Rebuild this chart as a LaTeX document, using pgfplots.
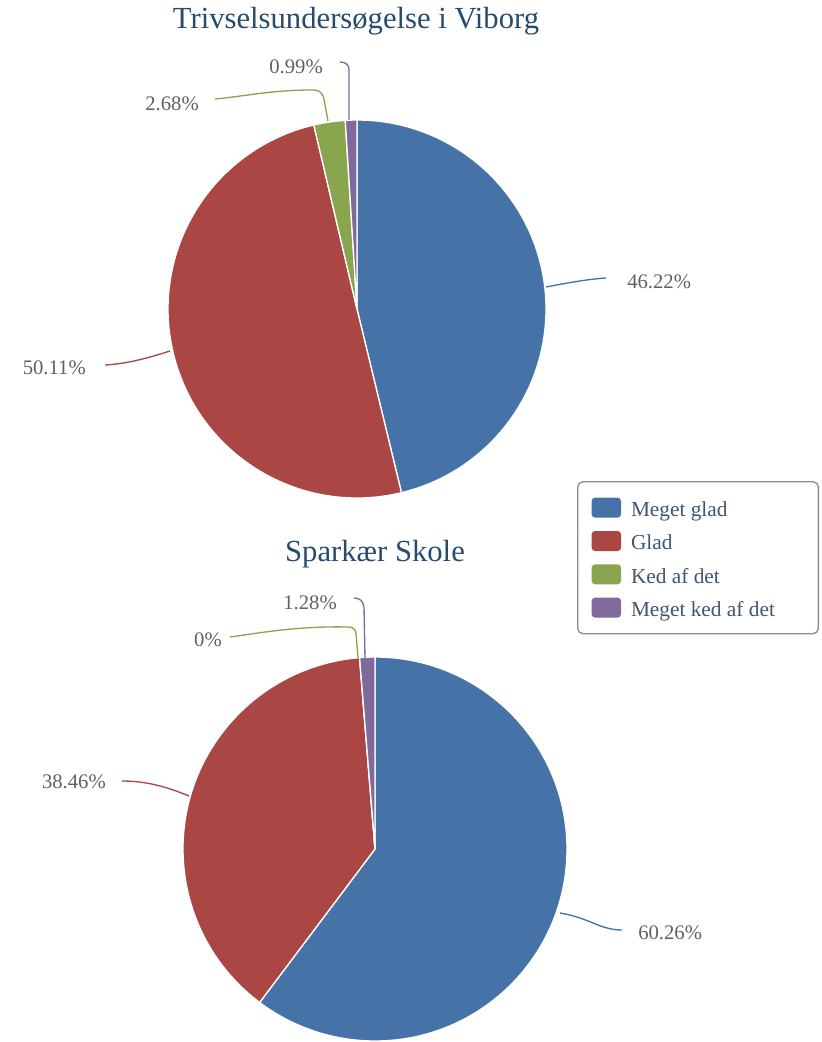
\documentclass[border=0pt]{standalone}
\usepackage{fontspec}
\setmainfont{Liberation Serif}
\usepackage{pgfplots}
\pgfplotsset{compat=1.18}
\definecolor{cblue}{HTML}{4572A7}
\definecolor{cred}{HTML}{AA4643}
\definecolor{cgreen}{HTML}{89A54E}
\definecolor{cpurple}{HTML}{80699B}
\definecolor{ctitle}{HTML}{274B6D}
\definecolor{clabel}{HTML}{606060}
\definecolor{clegend}{HTML}{3E576F}
\newcommand{\piechart}[4]{%
  \pgfmathsetlengthmacro\R{#3*0.75pt}%
  \xdef\cum{0}%
  \foreach \v/\col in {#4}{%
    \pgfmathsetmacro\a{90-3.6*\cum}%
    \pgfmathsetmacro\b{90-3.6*(\cum+\v)}%
    \fill[fill=\col, draw=white, line width=1pt, line join=round] (axis cs:#1,#2) -- ++(\a:\R) arc[start angle=\a, end angle=\b, radius=\R] -- cycle;
    \pgfmathsetmacro\n{\cum+\v}%
    \xdef\cum{\n}%
  }}
\newcommand{\lt}[1]{\makebox[130pt][l]{#1}}
\begin{document}
\begin{tikzpicture}
\begin{axis}[x=0.75pt, y=0.75pt, xmin=0, xmax=821, ymin=0, ymax=1042, y dir=reverse,
  hide axis, clip=false,
  legend cell align=left,
  legend style={at={(axis cs:577,481)}, anchor=north west, draw=black!45, line width=1pt,
    rounded corners=4pt, inner xsep=10.5pt, inner ysep=12pt, row sep=10pt,
    font=\fontsize{16pt}{19pt}\selectfont, text=clegend,
    nodes={inner sep=0pt, text height=14pt, text depth=1pt},
    /tikz/every odd column/.append style={column sep=7.5pt}},
  legend image code/.code={\fill[rounded corners=2.5pt, draw=none] (0pt,-7.5pt) rectangle (22pt,7.5pt);},
]
\addlegendimage{fill=cblue}\addlegendentry{\lt{Meget glad}}
\addlegendimage{fill=cred}\addlegendentry{\lt{Glad}}
\addlegendimage{fill=cgreen}\addlegendentry{\lt{Ked af det}}
\addlegendimage{fill=cpurple}\addlegendentry{\lt{Meget ked af det}}
\pgfplotsextra{
  \path (axis cs:0,0) rectangle (axis cs:821,1042);
  \piechart{357}{309}{189}{46.22/cblue,50.11/cred,2.68/cgreen,0.99/cpurple}
  \piechart{375}{849}{192}{60.26/cblue,38.46/cred,0/cgreen,1.28/cpurple}
}
% titles
\node[text=ctitle, font=\fontsize{23pt}{27pt}\selectfont] at (axis cs:356,21) {Trivselsundersøgelse i Viborg};
\node[text=ctitle, font=\fontsize{23pt}{27pt}\selectfont] at (axis cs:375,554) {Sparkær Skole};
% connectors top
\draw[cblue, line width=1pt] (546,287) .. controls (572,282) and (590,279) .. (606,278);
\draw[cred, line width=1pt] (170,351) .. controls (145,359) and (125,364) .. (105,365);
\draw[cgreen, line width=1pt] (328,121) -- (324,99) .. controls (322,91) and (318,90) .. (312,90) .. controls (270,90) and (240,97) .. (215,99);
\draw[cpurple, line width=1pt] (349,120) -- (349,70) .. controls (349,65) and (346,62) .. (340,62);
% connectors bottom
\draw[cpurple, line width=1pt] (365,658) -- (364,607) .. controls (363,601) and (360,598) .. (354,598);
\draw[cgreen, line width=1pt] (358,658) -- (356,633) .. controls (355,629) and (353,627) .. (348,627) .. controls (300,626) and (265,632) .. (230,637);
\draw[cred, line width=1pt] (189,796) .. controls (165,786) and (145,781) .. (122,781);
\draw[cblue, line width=1pt] (560,913) .. controls (590,918) and (600,930) .. (622,930);
% labels
\begin{scope}[every node/.style={text=clabel, font=\fontsize{15.5pt}{18pt}\selectfont, inner sep=0pt}]
\node[anchor=west] at (627,282) {46.22\%};
\node[anchor=east] at (86,368) {50.11\%};
\node[anchor=east] at (199,104) {2.68\%};
\node[anchor=east] at (323,67) {0.99\%};
\node[anchor=east] at (337,603) {1.28\%};
\node[anchor=east] at (222,640) {0\%};
\node[anchor=east] at (106,782) {38.46\%};
\node[anchor=west] at (638,933) {60.26\%};
\end{scope}
\end{axis}
\end{tikzpicture}
\end{document}
